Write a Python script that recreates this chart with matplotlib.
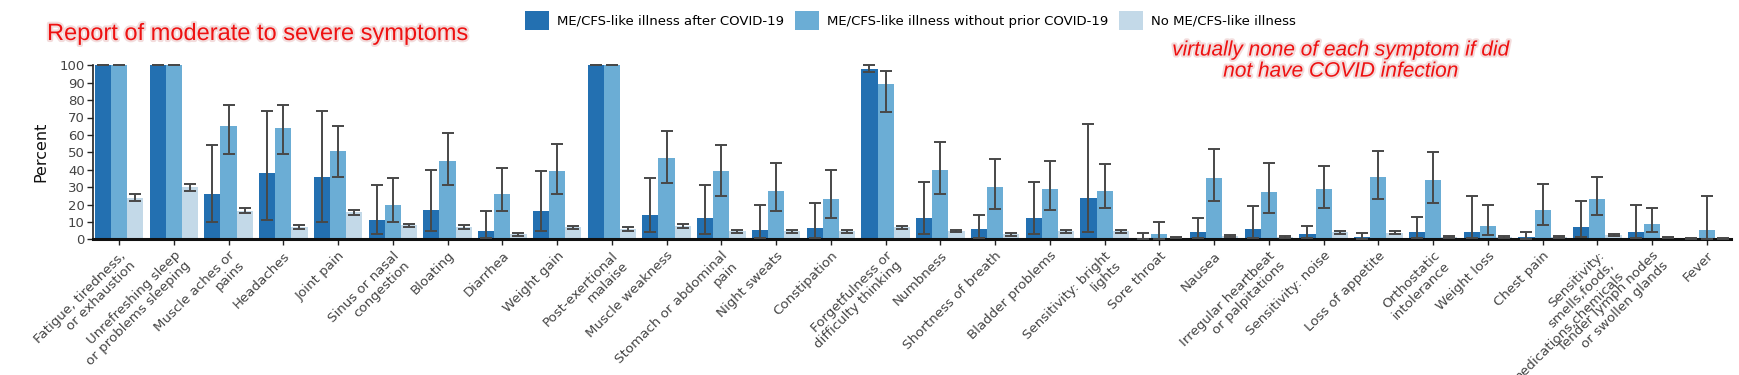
import matplotlib
matplotlib.use("Agg")
import matplotlib.pyplot as plt
import matplotlib.patheffects as pe
import numpy as np

categories = [
    "Fatigue, tiredness,\nor exhaustion",
    "Unrefreshing sleep\nor problems sleeping",
    "Muscle aches or\npains",
    "Headaches",
    "Joint pain",
    "Sinus or nasal\ncongestion",
    "Bloating",
    "Diarrhea",
    "Weight gain",
    "Post-exertional\nmalaise",
    "Muscle weakness",
    "Stomach or abdominal\npain",
    "Night sweats",
    "Constipation",
    "Forgetfulness or\ndifficulty thinking",
    "Numbness",
    "Shortness of breath",
    "Bladder problems",
    "Sensitivity: bright\nlights",
    "Sore throat",
    "Nausea",
    "Irregular heartbeat\nor palpitations",
    "Sensitivity: noise",
    "Loss of appetite",
    "Orthostatic\nintolerance",
    "Weight loss",
    "Chest pain",
    "Sensitivity:\nsmells,foods,\nmedications,chemicals",
    "Tender lymph nodes\nor swollen glands",
    "Fever",
]

series_names = [
    "ME/CFS-like illness after COVID-19",
    "ME/CFS-like illness without prior COVID-19",
    "No ME/CFS-like illness",
]

# ME/CFS-like illness after COVID-19
after_covid = [100, 100, 26, 38, 36, 11, 17, 5, 16, 100, 14, 12, 5.2, 6.5, 98, 12, 6, 12, 24,
               1, 4, 6, 3, 1.1, 4.3, 4.2, 1.3, 7.3, 4, 0.6]
after_covid_lo = [100, 100, 10, 11, 10, 3, 5, 0.5, 5, 100, 4, 3, 0.5, 1, 96, 3, 1, 3, 4,
                  0, 1, 1, 0.5, 0, 1, 0.5, 0, 1.5, 0.5, 0.3]
after_covid_hi = [100, 100, 54, 74, 74, 31, 40, 16, 39, 100, 35, 31, 20, 21, 100, 33, 14, 33, 66,
                  3.7, 12, 19, 7.7, 3.8, 13, 25, 4.4, 22, 20, 0.9]

# ME/CFS-like illness without prior COVID-19
without_covid = [100, 100, 65, 64, 51, 20, 45, 26, 39, 100, 47, 39, 28, 23, 89, 40, 30, 29, 28,
                 3, 35, 27, 29, 36, 34, 7.6, 16.8, 23, 8.8, 5.3]
without_covid_lo = [100, 100, 49, 49, 36, 10, 31, 16, 26, 100, 32.5, 25, 16, 12, 73, 26, 17.5, 17, 18,
                    0, 22, 15, 18, 23, 21, 2.5, 8, 14, 4, 0]
without_covid_hi = [100, 100, 77, 77, 65, 35, 61, 41, 55, 100, 62, 54, 44, 40, 96.5, 56, 46, 45, 43,
                    9.8, 52, 44, 42, 51, 50, 20, 32, 36, 18, 25]

# No ME/CFS-like illness
no_mecfs = [24, 30, 16.5, 7, 15.5, 8, 7, 3, 7, 6, 7.5, 4.5, 4.5, 4.5, 7, 5, 3, 5, 4.5,
            1, 2, 1.5, 4, 3.5, 1.5, 1.5, 1.5, 2.5, 1, 0.5]
no_mecfs_lo = [22, 28, 15, 6, 14, 7, 6, 2.1, 5.8, 5, 6.3, 3.7, 3.7, 3.7, 5.8, 4, 1.9, 3.8, 3.7,
               0.5, 1.4, 1, 3.1, 2.8, 1, 1, 1, 1.7, 0.5, 0.2]
no_mecfs_hi = [26, 32, 18, 8, 17, 9, 8, 3.6, 7.7, 7, 8.6, 5.4, 5.4, 5.4, 7.7, 5.6, 3.5, 5.4, 5.4,
               1.5, 2.7, 2, 4.8, 4.5, 2, 2, 2, 3.1, 1.5, 0.8]

title_text = "Report of moderate to severe symptoms"
note_lines = ["virtually none of each symptom if did", "not have COVID infection"]

colors = ["#2370b1", "#6badd5", "#c3d9e8"]
err_color = "#484848"

fig = plt.figure(figsize=(17.4, 3.75), dpi=100)
ax = fig.add_axes([93 / 1740, (375 - 239.3) / 375, (1731 - 93) / 1740, 174 / 375])

n = len(categories)
x = np.arange(n)
bw = 0.295
data = [
    (after_covid, after_covid_lo, after_covid_hi),
    (without_covid, without_covid_lo, without_covid_hi),
    (no_mecfs, no_mecfs_lo, no_mecfs_hi),
]
handles = []
for j, (vals, lo, hi) in enumerate(data):
    vals = np.array(vals, float)
    lo = np.array(lo, float)
    hi = np.array(hi, float)
    pos = x + (j - 1) * bw
    b = ax.bar(pos, vals, width=bw, color=colors[j], linewidth=0, label=series_names[j], zorder=2)
    handles.append(b)
    el = ax.errorbar(pos, vals, yerr=[vals - lo, hi - vals], fmt="none", ecolor=err_color,
                     elinewidth=1.4, capsize=4.5, capthick=1.4, zorder=3)
    for art in el.lines[1]:
        art.set_clip_on(False)
    for art in el.lines[2]:
        art.set_clip_on(False)

ax.set_xlim(-0.475, n - 1 + 0.44)
ax.set_ylim(0, 100)
ax.set_yticks(np.arange(0, 101, 10))
ax.set_xticks(x)
ax.set_xticklabels(categories, rotation=45, ha="right", rotation_mode="anchor",
                   fontsize=9.6, color="#444444", linespacing=1.1)
ax.tick_params(axis="y", labelsize=9.5, labelcolor="#444444", length=4, width=1.0, color="#222222", pad=2)
ax.tick_params(axis="x", length=4, width=1.0, color="#222222", pad=3)
for s in ["top", "right"]:
    ax.spines[s].set_visible(False)
ax.spines["left"].set_linewidth(1.2)
ax.spines["left"].set_color("#222222")
ax.spines["bottom"].set_linewidth(2.2)
ax.spines["bottom"].set_color("#111111")
ax.set_ylabel("Percent", fontsize=11.5, color="#111111")
ax.yaxis.set_label_coords(-0.0275, 0.5)

fig.legend(handles=handles, labels=series_names, ncol=3, loc="upper left",
           bbox_to_anchor=(525 / 1740, 1 - 11 / 375), frameon=False, fontsize=9.5,
           borderaxespad=0, borderpad=0, handlelength=1.8, handleheight=1.8,
           handletextpad=0.6, columnspacing=0.85)

shadow = [pe.withStroke(linewidth=3, foreground="#f3dcdc")]
fig.text(47 / 1740, 1 - 40 / 375, title_text, fontsize=17, color="#ee1111",
         family="Liberation Sans", ha="left", va="baseline", path_effects=shadow)
fig.text(1341 / 1740, 1 - 55.5 / 375, note_lines[0], fontsize=15, color="#ee1111",
         family="Liberation Sans", style="italic", ha="center", va="baseline", path_effects=shadow)
fig.text(1341 / 1740, 1 - 76.6 / 375, note_lines[1], fontsize=15, color="#ee1111",
         family="Liberation Sans", style="italic", ha="center", va="baseline", path_effects=shadow)

fig.savefig("out.png", dpi=100)
